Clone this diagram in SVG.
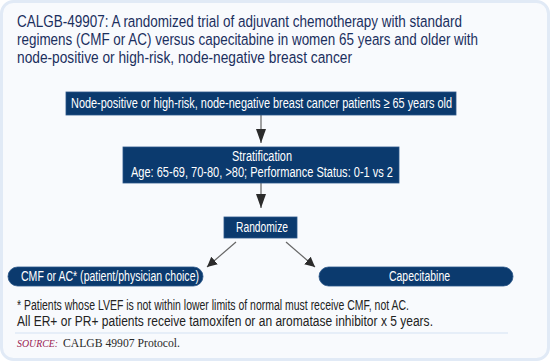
<svg xmlns="http://www.w3.org/2000/svg" width="550" height="361" viewBox="0 0 550 361">
<defs>
<style>
.t{font-family:"Liberation Sans",Arial,sans-serif;fill:#1b2f5e;font-size:17px}
.bt{font-family:"Liberation Sans",Arial,sans-serif;fill:#ffffff;font-size:15px}
.ft{font-family:"Liberation Sans",Arial,sans-serif;fill:#222;font-size:14.5px}
.box{fill:#0b3a6e;stroke:#2a5588;stroke-width:0.8}
.conn{stroke:#666;stroke-width:1.2;fill:none}
</style>
<marker id="ah" viewBox="0 0 10 10" refX="10" refY="5" markerWidth="10" markerHeight="10" markerUnits="userSpaceOnUse" orient="auto">
<path d="M0,0 L10,5 L0,10 z" fill="#2b2b2b"/>
</marker>
<marker id="ahv" viewBox="0 0 14 10" refX="14" refY="5" markerWidth="14" markerHeight="10" markerUnits="userSpaceOnUse" orient="auto">
<path d="M0,0 L14,5 L0,10 z" fill="#2b2b2b"/>
</marker>
</defs>
<rect x="0" y="0" width="550" height="361" fill="#ffffff"/>
<rect x="1.5" y="1.5" width="547" height="358" rx="12" ry="12" fill="#f8fafd" stroke="#e1eaf6" stroke-width="3"/>
<g id="title" transform="scale(0.82,1)">
<text class="t" x="20.73" y="27" textLength="542.7" lengthAdjust="spacingAndGlyphs">CALGB-49907: A randomized trial of adjuvant chemotherapy with standard</text>
<text class="t" x="20.73" y="45" textLength="562.2" lengthAdjust="spacingAndGlyphs">regimens (CMF or AC) versus capecitabine in women 65 years and older with</text>
<text class="t" x="20.73" y="63" textLength="408.5" lengthAdjust="spacingAndGlyphs">node-positive or high-risk, node-negative breast cancer</text>
</g>
<g id="connectors">
<line class="conn" x1="261" y1="115" x2="261" y2="143" marker-end="url(#ahv)"/>
<line class="conn" x1="261" y1="183" x2="261" y2="208" marker-end="url(#ahv)"/>
<line class="conn" x1="236" y1="242" x2="207" y2="267" marker-end="url(#ah)"/>
<line class="conn" x1="286" y1="242" x2="315" y2="267" marker-end="url(#ah)"/>
</g>
<g id="eligibility">
<rect class="box" x="66" y="92" width="390" height="23"/>
<text class="bt" transform="scale(0.82,1)" x="86.59" y="108.5" textLength="464.6" lengthAdjust="spacingAndGlyphs">Node-positive or high-risk, node-negative breast cancer patients ≥ 65 years old</text>
</g>
<g id="stratification">
<rect class="box" x="123" y="147" width="276" height="36"/>
<text class="bt" transform="scale(0.82,1)" x="319.5" y="161" text-anchor="middle" textLength="73.2" lengthAdjust="spacingAndGlyphs">Stratification</text>
<text class="bt" transform="scale(0.82,1)" x="319.5" y="177.5" text-anchor="middle" textLength="319.5" lengthAdjust="spacingAndGlyphs">Age: 65-69, 70-80, &gt;80; Performance Status: 0-1 vs 2</text>
</g>
<g id="randomize">
<rect class="box" x="224" y="217" width="73" height="21"/>
<text class="bt" transform="scale(0.82,1)" x="319.5" y="232.5" text-anchor="middle" textLength="63.4" lengthAdjust="spacingAndGlyphs">Randomize</text>
</g>
<g id="cmf">
<rect class="box" x="8" y="267" width="195" height="19" rx="9.5" ry="9.5"/>
<text class="bt" transform="scale(0.82,1)" x="25.61" y="281.5" textLength="217.1" lengthAdjust="spacingAndGlyphs">CMF or AC* (patient/physician choice)</text>
</g>
<g id="capecitabine">
<rect class="box" x="319" y="267" width="194" height="19" rx="9.5" ry="9.5"/>
<text class="bt" transform="scale(0.82,1)" x="511.6" y="281.5" text-anchor="middle" textLength="74.4" lengthAdjust="spacingAndGlyphs">Capecitabine</text>
</g>
<g id="footnote">
<text class="ft" transform="scale(0.82,1)" x="20.73" y="310" textLength="478" lengthAdjust="spacingAndGlyphs">* Patients whose LVEF is not within lower limits of normal must receive CMF, not AC.</text>
<text class="ft" transform="scale(0.82,1)" x="20.73" y="326" textLength="507.3" lengthAdjust="spacingAndGlyphs">All ER+ or PR+ patients receive tamoxifen or an aromatase inhibitor x 5 years.</text>
<line x1="15" y1="333" x2="508" y2="333" stroke="#e1eaf6" stroke-width="1.5"/>
<text x="17" y="347" font-family="'Liberation Serif',serif" font-style="italic" font-size="11" fill="#9a2150" textLength="41" lengthAdjust="spacingAndGlyphs">SOURCE:</text>
<text x="63" y="347" font-family="'Liberation Serif',serif" font-size="12.5" fill="#2a2a2a" textLength="117" lengthAdjust="spacingAndGlyphs">CALGB 49907 Protocol.</text>
</g>
</svg>
